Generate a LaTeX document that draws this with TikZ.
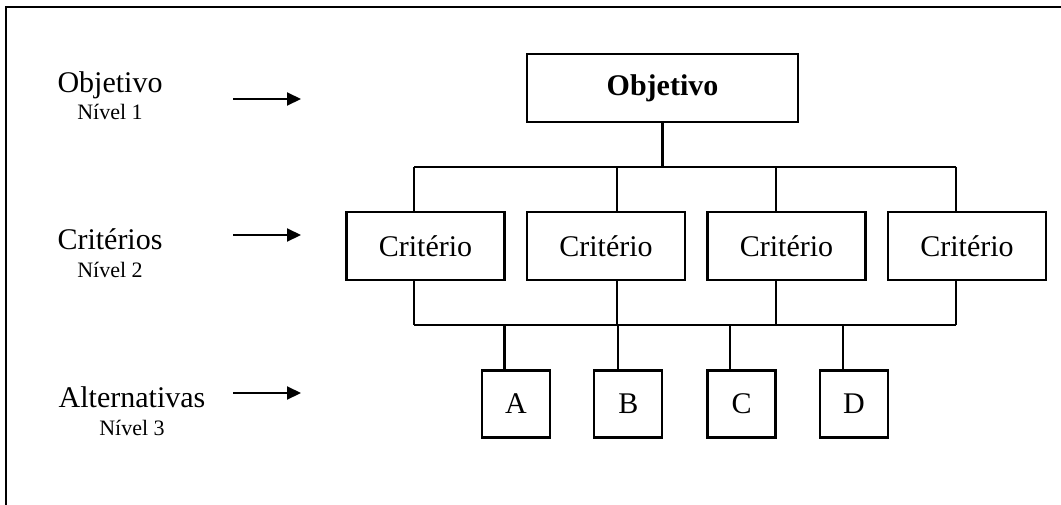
\documentclass[tikz,border=0pt]{standalone}
\usepackage{fontspec}
\setmainfont{Liberation Serif}
\usetikzlibrary{arrows.meta,calc}
\tikzset{
  box/.style={draw, line width=2.2pt, rectangle, inner sep=0pt, outer sep=0pt, font=\fontsize{30}{36}\selectfont},
  critbox/.style={box, minimum width=158pt, minimum height=68pt},
  altbox/.style={box, minimum width=68pt, minimum height=67pt},
  link/.style={line width=2.1pt},
  lvl/.style={inner sep=0pt, anchor=base, font=\fontsize{30}{36}\selectfont},
  niv/.style={inner sep=0pt, anchor=base, font=\fontsize{22}{26}\selectfont},
  lvlarrow/.style={line width=2.1pt, -{Triangle[length=14pt,width=13pt]}},
  frame/.style={line width=2.6pt}
}
\begin{document}
\begin{tikzpicture}[x=1pt,y=-1pt]
\useasboundingbox (0,0) rectangle (1061,504);
\clip (0,0) rectangle (1061,504);
\fill[white] (0,0) rectangle (1061,504);
\draw[frame] (6,600) -- (6,7) -- (1100,7);

% left labels
\node[lvl] (lo) at (110,92) {Objetivo};
\node[niv] (n1) at (110,119) {Nível 1};
\node[lvl] (lc) at (110,249) {Critérios};
\node[niv] (n2) at (110,277) {Nível 2};
\node[lvl] (la) at (132,407) {Alternativas};
\node[niv] (n3) at (132,435) {Nível 3};

\coordinate (a1s) at (233,99);  \coordinate (a1e) at (301,99);
\coordinate (a2s) at (233,235); \coordinate (a2e) at (301,235);
\coordinate (a3s) at (233,393); \coordinate (a3e) at (301,393);
\draw[lvlarrow] (a1s) -- (a1e);
\draw[lvlarrow] (a2s) -- (a2e);
\draw[lvlarrow] (a3s) -- (a3e);

% objective
\node[box, minimum width=271pt, minimum height=68pt, font=\fontsize{30}{36}\selectfont\bfseries] (obj) at (662.5,88) {Objetivo};

% criteria
\node[critbox] (c1) at (425.5,246) {Critério};
\node[critbox] (c2) at (606,246) {Critério};
\node[critbox] (c3) at (786.5,246) {Critério};
\node[critbox] (c4) at (967,246) {Critério};

% alternatives
\node[altbox] (A) at (516,404) {A};
\node[altbox] (B) at (628.3,404) {B};
\node[altbox] (C) at (741.5,404) {C};
\node[altbox] (D) at (854,404) {D};

% bus coordinates
\coordinate (tb) at (662.7,166.7);
\coordinate (t1) at (414,166.7);
\coordinate (t2) at (617,166.7);
\coordinate (t3) at (776,166.7);
\coordinate (t4) at (956,166.7);
\coordinate (b1) at (414,324.7);
\coordinate (b4) at (956,324.7);
\coordinate (da) at ($(A.north)+(-11.5,0)$);
\coordinate (db) at ($(B.north)+(-10.6,0)$);
\coordinate (dc) at ($(C.north)+(-11.2,0)$);
\coordinate (dd) at ($(D.north)+(-11.3,0)$);

\draw[link] (obj.south) -- (obj.south |- tb);
\draw[link] (t1) -- (t4);
\draw[link] (t1) -- (t1 |- c1.north);
\draw[link] (t2) -- (t2 |- c2.north);
\draw[link] (t3) -- (t3 |- c3.north);
\draw[link] (t4) -- (t4 |- c4.north);

\draw[link] (t1 |- c1.south) -- (b1);
\draw[link] (t2 |- c2.south) -- (t2 |- b1);
\draw[link] (t3 |- c3.south) -- (t3 |- b1);
\draw[link] (t4 |- c4.south) -- (b4);
\draw[link] (b1) -- (b4);

\draw[link] (da |- b1) -- (da);
\draw[link] (db |- b1) -- (db);
\draw[link] (dc |- b1) -- (dc);
\draw[link] (dd |- b1) -- (dd);
\end{tikzpicture}
\end{document}
